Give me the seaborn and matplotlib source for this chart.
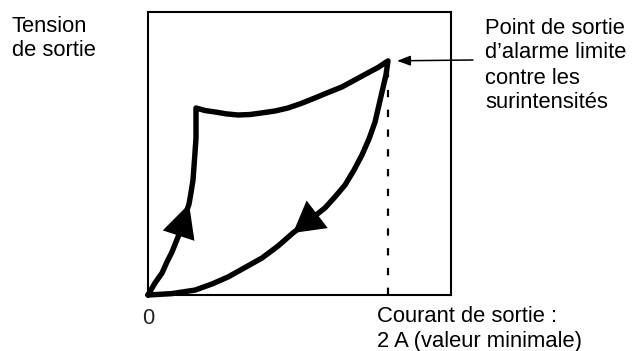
import numpy as np
import pandas as pd
import matplotlib
matplotlib.use("Agg")
import matplotlib.pyplot as plt
import seaborn as sns

# ---- data (x: output current in A, y: relative output voltage)
rise_x = [0.0, 0.058, 0.117, 0.158, 0.200, 0.233, 0.267, 0.292, 0.317, 0.342,
          0.358, 0.375, 0.383, 0.392, 0.400, 0.400, 0.400]
rise_y = [0.0, 0.051, 0.094, 0.141, 0.184, 0.226, 0.269, 0.312, 0.350, 0.389,
          0.436, 0.491, 0.547, 0.611, 0.671, 0.731, 0.799]

top_x = [0.400, 0.475, 0.558, 0.650, 0.750, 0.850, 0.950, 1.058, 1.167,
         1.275, 1.392, 1.500, 1.617, 1.725, 1.833, 1.917, 2.000]
top_y = [0.799, 0.788, 0.782, 0.774, 0.769, 0.771, 0.778, 0.786, 0.799,
         0.818, 0.842, 0.865, 0.889, 0.919, 0.949, 0.972, 1.000]

fall_x = [2.000, 1.983, 1.958, 1.925, 1.892, 1.842, 1.783, 1.717, 1.642, 1.558,
          1.475, 1.350, 1.208, 1.083, 0.950, 0.800, 0.667, 0.533, 0.392, 0.200, 0.0]
fall_y = [1.000, 0.940, 0.885, 0.812, 0.739, 0.667, 0.598, 0.534, 0.470, 0.419,
          0.372, 0.321, 0.265, 0.209, 0.158, 0.115, 0.077, 0.047, 0.021, 0.006, 0.0]

x_max = 2.525
y_max = 1.209
zero_label = "0"
ylabel = "Tension\nde sortie"
xlabel = "Courant de sortie :\n2 A (valeur minimale)"
point_label = "Point de sortie\nd\u2019alarme limite\ncontre les\nsurintensités"

sns.set_style("white")
plt.rcParams["font.family"] = ["Liberation Sans", "DejaVu Sans"]

W, H = 637, 351
fig = plt.figure(figsize=(W / 100, H / 100), dpi=100)
ax = fig.add_axes([148 / W, (H - 295) / H, 303 / W, 283 / H])

df = pd.DataFrame({
    "x": rise_x + top_x[1:] + fall_x[1:],
    "y": rise_y + top_y[1:] + fall_y[1:],
})
sns.lineplot(data=df, x="x", y="y", sort=False, estimator=None, color="black",
             lw=3.9, ax=ax, solid_joinstyle="round", solid_capstyle="round",
             clip_on=False)

# direction arrowheads on the curves
def head(x, y, i, hl, hw):
    ax.annotate("", xy=(x[i], y[i]), xytext=(x[i - 1], y[i - 1]),
                arrowprops=dict(arrowstyle=f"-|>,head_length={hl},head_width={hw}",
                                lw=0, color="black", mutation_scale=10,
                                shrinkA=0, shrinkB=0))

head(rise_x, rise_y, 9, 2.4, 1.2)
head(fall_x, fall_y, 12, 2.2, 1.25)

# dashed drop line at the alarm point
ax.vlines(top_x[-1], 0, top_y[-1], colors="black", lw=1.6,
          linestyles=(0, (3.3, 5.6)))

ax.set_xlim(0, x_max)
ax.set_ylim(0, y_max)
ax.set_xticks([0])
ax.set_xticklabels([zero_label])
ax.set_yticks([])
ax.tick_params(axis="x", length=0, pad=9, labelsize=15.8)
ax.set_xlabel("")
ax.set_ylabel("")
for s in ax.spines.values():
    s.set_visible(True)
    s.set_color("black")
    s.set_linewidth(1.5)

# pointer arrow from label to alarm point
ax.annotate("", xy=(top_x[-1], top_y[-1]), xytext=(473, H - 60),
            textcoords="figure pixels",
            arrowprops=dict(arrowstyle="-|>,head_length=0.8,head_width=0.3",
                            lw=1.1, color="black", mutation_scale=10,
                            shrinkA=0, shrinkB=6.5))

# va='baseline' anchors the last line's baseline
kw = dict(fontsize=15.8, va="baseline", ha="left", linespacing=1.25, color="black")
fig.text(12 / W, 1 - 56.5 / H, ylabel, **kw)
fig.text(485 / W, 1 - 108.5 / H, point_label, **kw)
fig.text(377 / W, 1 - 346.5 / H, xlabel, **kw)

fig.savefig("out.png", dpi=100)
